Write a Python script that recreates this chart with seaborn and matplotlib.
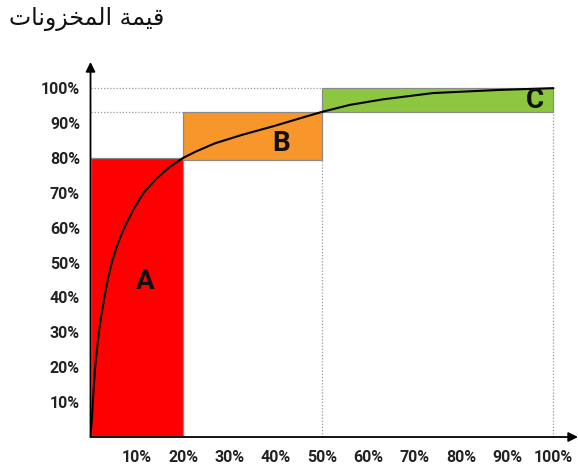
import matplotlib
matplotlib.use("Agg")
import matplotlib.pyplot as plt
import seaborn as sns

# ABC analysis: cumulative share of inventory value vs share of items
class_names = ["A", "B", "C"]
class_start = [0, 20, 50]        # % of items where each class begins
class_width = [20, 30, 50]       # % of items in each class
class_bottom = [0, 79.5, 93.2]   # % of value at the bottom of each block
class_top = [80, 93.2, 100]      # % of value at the top of each block
class_colors = ["#ff0000", "#f7962a", "#8dc63f"]
label_x = [11.8, 41.1, 96.0]
label_y = [44.5, 84.0, 96.4]

# cumulative value curve
curve_x = [0, 0.3, 0.5, 0.75, 1.0, 1.4, 1.8, 2.35, 3.0, 3.7, 4.6, 5.1, 5.8, 7.1, 9.2,
           11.4, 14.3, 17.2, 20, 22.7, 26.9, 32.7, 39.8, 45.6, 50,
           56, 63.2, 74, 88.4, 100]
curve_y = [0, 5, 10, 15, 20, 25, 30, 35, 40, 45, 50, 52.2, 55, 59.4, 65.1,
           69.9, 74.2, 77.5, 80, 81.8, 84.2, 86.6, 89.2, 91.5, 93.2,
           95.2, 96.8, 98.6, 99.5, 100]

ticks = [10, 20, 30, 40, 50, 60, 70, 80, 90, 100]
tick_labels = [f"{t}%" for t in ticks]

# title "قيمة المخزونات" written in presentation forms, visual order
# (matplotlib has no Arabic shaping of its own)
title = "\ufe95\ufe8e\ufee7\ufeed\ufeb0\ufea8\ufee4\ufedf\ufe8d \ufe94\ufee4\ufef4\ufed7"

sns.set_theme(style="white")
plt.rcParams["font.family"] = ["DejaVu Sans"]
label_font = ["Roboto", "DejaVu Sans"]

fig = plt.figure(figsize=(5.78, 4.71), dpi=100)
ax = fig.add_axes([90.5 / 578, 34 / 471, 487.5 / 578, 375 / 471])
ax.set_xlim(0, 105.3)
ax.set_ylim(0, 107.5)

# class blocks
ax.bar(class_start, [t - b for t, b in zip(class_top, class_bottom)], width=class_width,
       bottom=class_bottom, align="edge", color=class_colors, edgecolor="#8a8a8a",
       linewidth=0.9, zorder=2)

# dotted guide lines
guide = dict(color="#9a9a9a", linestyle=(0, (1, 1.5)), linewidth=0.9, zorder=1)
ax.plot([0, class_start[1]], [class_top[1], class_top[1]], **guide)
ax.plot([0, class_start[2]], [class_top[2], class_top[2]], **guide)
ax.plot([class_start[2], class_start[2]], [0, class_bottom[1]], **guide)
ax.plot([100, 100], [0, class_bottom[2]], **guide)

sns.lineplot(x=curve_x, y=curve_y, color="black", linewidth=1.5, sort=False,
             ax=ax, zorder=3)

for name, lx, ly in zip(class_names, label_x, label_y):
    ax.text(lx, ly, name, ha="center", va="center", fontsize=20, fontweight="bold",
            family=label_font, color="#111111", zorder=4)

# axes with arrow heads
for s in ax.spines.values():
    s.set_visible(False)
arrow = dict(arrowstyle="-|>", color="black", lw=1.3, mutation_scale=14,
             shrinkA=0, shrinkB=0)
ax.annotate("", xy=(105.3, 0), xytext=(0, 0), arrowprops=arrow, annotation_clip=False)
ax.annotate("", xy=(0, 107.5), xytext=(0, 0), arrowprops=arrow, annotation_clip=False)

ax.set_xticks(ticks)
ax.set_xticklabels(tick_labels)
ax.set_yticks(ticks)
ax.set_yticklabels(tick_labels)
ax.tick_params(axis="both", direction="inout", length=7, width=0.9, colors="#555555",
               labelcolor="#222222", labelsize=11.5)
ax.tick_params(axis="x", pad=6)
ax.tick_params(axis="y", pad=4)
for lab in ax.get_xticklabels() + ax.get_yticklabels():
    lab.set_fontweight("bold")
    lab.set_family(label_font)
ax.grid(False)

fig.text(164 / 578, 1 - 19 / 471, title, ha="right", va="center", fontsize=17,
         color="#111111")

fig.savefig("out.png", dpi=100)
